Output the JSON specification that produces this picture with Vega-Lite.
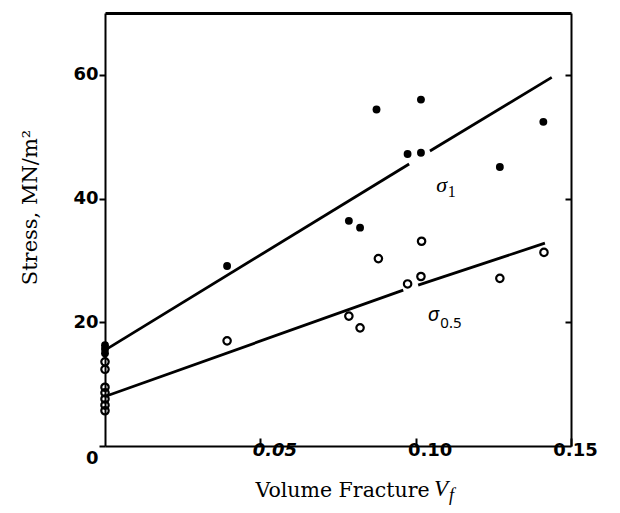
{
  "$schema": "https://vega.github.io/schema/vega-lite/v6.json",
  "width": 466,
  "height": 433,
  "autosize": {"type": "none"},
  "padding": {"left": 105, "top": 13, "right": 49, "bottom": 67},
  "background": "white",
  "config": {"view": {"stroke": null}, "axis": {"grid": false, "domainColor": "black", "tickColor": "black", "labelColor": "black", "titleColor": "black"}},
  "datasets": {
    "pts": [
      {"vf": 0, "stress": 16.3, "series": "sigma1"},
      {"vf": 0, "stress": 15.7, "series": "sigma1"},
      {"vf": 0, "stress": 15.0, "series": "sigma1"},
      {"vf": 0.0393, "stress": 29.1, "series": "sigma1"},
      {"vf": 0.0785, "stress": 36.4, "series": "sigma1"},
      {"vf": 0.0821, "stress": 35.3, "series": "sigma1"},
      {"vf": 0.0874, "stress": 54.4, "series": "sigma1"},
      {"vf": 0.0974, "stress": 47.2, "series": "sigma1"},
      {"vf": 0.1017, "stress": 47.4, "series": "sigma1"},
      {"vf": 0.1017, "stress": 56.0, "series": "sigma1"},
      {"vf": 0.1271, "stress": 45.1, "series": "sigma1"},
      {"vf": 0.1411, "stress": 52.4, "series": "sigma1"},
      {"vf": 0, "stress": 13.6, "series": "sigma05"},
      {"vf": 0, "stress": 12.4, "series": "sigma05"},
      {"vf": 0, "stress": 9.5, "series": "sigma05"},
      {"vf": 0, "stress": 8.6, "series": "sigma05"},
      {"vf": 0, "stress": 7.6, "series": "sigma05"},
      {"vf": 0, "stress": 6.6, "series": "sigma05"},
      {"vf": 0, "stress": 5.7, "series": "sigma05"},
      {"vf": 0.0393, "stress": 17.0, "series": "sigma05"},
      {"vf": 0.0785, "stress": 21.0, "series": "sigma05"},
      {"vf": 0.0821, "stress": 19.1, "series": "sigma05"},
      {"vf": 0.0880, "stress": 30.3, "series": "sigma05"},
      {"vf": 0.0974, "stress": 26.2, "series": "sigma05"},
      {"vf": 0.1017, "stress": 27.4, "series": "sigma05"},
      {"vf": 0.1019, "stress": 33.1, "series": "sigma05"},
      {"vf": 0.1271, "stress": 27.1, "series": "sigma05"},
      {"vf": 0.1413, "stress": 31.3, "series": "sigma05"}
    ],
    "fits": [
      {"vf": 0, "stress": 15.5, "seg": "s1a"},
      {"vf": 0.0979, "stress": 45.6, "seg": "s1a"},
      {"vf": 0.1046, "stress": 47.7, "seg": "s1b"},
      {"vf": 0.1438, "stress": 59.6, "seg": "s1b"},
      {"vf": 0, "stress": 8.0, "seg": "s5a"},
      {"vf": 0.0960, "stress": 25.2, "seg": "s5a"},
      {"vf": 0.1008, "stress": 26.0, "seg": "s5b"},
      {"vf": 0.1416, "stress": 32.8, "seg": "s5b"}
    ],
    "labels": [
      {"vf": 0.1084, "stress": 42.2, "text": "σ", "kind": "s1sym"},
      {"vf": 0.1084, "stress": 42.2, "text": "1", "kind": "s1sub"},
      {"vf": 0.1057, "stress": 21.2, "text": "σ", "kind": "s5sym"},
      {"vf": 0.1057, "stress": 21.2, "text": "0.5", "kind": "s5sub"},
      {"vf": 0.1059, "stress": -8.1, "text": "V", "kind": "vsym"},
      {"vf": 0.1059, "stress": -8.1, "text": "f", "kind": "vsub"}
    ]
  },
  "resolve": {"axis": {"x": "independent", "y": "independent"}},
  "layer": [
    {
      "data": {"name": "pts"},
      "transform": [{"filter": "datum.series == 'sigma1'"}],
      "mark": {"type": "point", "shape": "circle", "filled": true, "color": "black", "size": 62, "opacity": 1},
      "encoding": {
        "x": {"field": "vf", "type": "quantitative", "scale": {"domain": [0, 0.15], "nice": false, "zero": false},
          "axis": {"orient": "bottom", "values": [0.05, 0.1, 0.15], "format": ".2f", "domainWidth": 2, "tickWidth": 2, "tickSize": -8,
            "labelFont": "DejaVu Sans", "labelFontWeight": "bold", "labelFontSize": 18,
            "labelFontStyle": {"expr": "datum.value < 0.07 ? 'italic' : 'normal'"},
            "labelOffset": {"expr": "datum.value > 0.12 ? 4 : 14"},
            "labelPadding": 3, "labelFlush": false, "labelOverlap": false,
            "title": "Volume Fracture", "titleFont": "DejaVu Serif", "titleFontWeight": "normal", "titleFontSize": 20.5,
            "titleAlign": "left", "titleAnchor": null, "titleX": 150, "titleY": 50, "titleBaseline": "alphabetic"}},
        "y": {"field": "stress", "type": "quantitative", "scale": {"domain": [0, 70], "nice": false},
          "axis": {"orient": "left", "values": [0, 20, 40, 60], "domainWidth": 2, "tickWidth": 2, "tickSize": 6,
            "labelFont": "DejaVu Sans", "labelFontWeight": "bold", "labelFontSize": 18, "labelPadding": 1,
            "labelOffset": {"expr": "datum.value == 0 ? 12 : 0"},
            "labelFlush": false, "labelOverlap": false,
            "title": "Stress, MN/m²", "titleFont": "DejaVu Serif", "titleFontWeight": "normal", "titleFontSize": 21,
            "titleAngle": -90, "titleAlign": "center", "titleBaseline": "middle", "titleAnchor": null, "titleX": -75, "titleY": 194}}
      }
    },
    {
      "data": {"name": "pts"},
      "transform": [{"filter": "datum.series == 'sigma05'"}],
      "mark": {"type": "point", "shape": "circle", "filled": false, "color": "black", "size": 55, "strokeWidth": 2.2, "opacity": 1},
      "encoding": {
        "x": {"field": "vf", "type": "quantitative", "axis": null},
        "y": {"field": "stress", "type": "quantitative", "axis": null}
      }
    },
    {
      "data": {"name": "fits"},
      "mark": {"type": "line", "color": "black", "strokeWidth": 2.8},
      "encoding": {
        "x": {"field": "vf", "type": "quantitative",
          "axis": {"orient": "top", "domainWidth": 3, "ticks": false, "labels": false, "title": null}},
        "y": {"field": "stress", "type": "quantitative",
          "axis": {"orient": "right", "values": [20, 40, 60], "domainWidth": 2, "tickWidth": 2, "tickSize": -6, "labels": false, "title": null}},
        "detail": {"field": "seg"}
      }
    },
    {
      "data": {"name": "labels"},
      "transform": [{"filter": "datum.kind == 's1sym'"}],
      "mark": {"type": "text", "font": "Liberation Serif", "fontStyle": "italic", "fontSize": 22, "align": "center", "baseline": "middle", "color": "black"},
      "encoding": {"x": {"field": "vf", "type": "quantitative", "axis": null}, "y": {"field": "stress", "type": "quantitative", "axis": null}, "text": {"field": "text"}}
    },
    {
      "data": {"name": "labels"},
      "transform": [{"filter": "datum.kind == 's1sub'"}],
      "mark": {"type": "text", "font": "Liberation Serif", "fontSize": 16, "align": "center", "baseline": "middle", "dx": 10, "dy": 7, "color": "black"},
      "encoding": {"x": {"field": "vf", "type": "quantitative", "axis": null}, "y": {"field": "stress", "type": "quantitative", "axis": null}, "text": {"field": "text"}}
    },
    {
      "data": {"name": "labels"},
      "transform": [{"filter": "datum.kind == 's5sym'"}],
      "mark": {"type": "text", "font": "Noto Sans", "fontStyle": "italic", "fontSize": 20, "align": "center", "baseline": "middle", "color": "black"},
      "encoding": {"x": {"field": "vf", "type": "quantitative", "axis": null}, "y": {"field": "stress", "type": "quantitative", "axis": null}, "text": {"field": "text"}}
    },
    {
      "data": {"name": "labels"},
      "transform": [{"filter": "datum.kind == 's5sub'"}],
      "mark": {"type": "text", "font": "Noto Sans", "fontSize": 15, "align": "left", "baseline": "middle", "dx": 7, "dy": 8, "color": "black"},
      "encoding": {"x": {"field": "vf", "type": "quantitative", "axis": null}, "y": {"field": "stress", "type": "quantitative", "axis": null}, "text": {"field": "text"}}
    },
    {
      "data": {"name": "labels"},
      "transform": [{"filter": "datum.kind == 'vsym'"}],
      "mark": {"type": "text", "font": "Liberation Serif", "fontStyle": "italic", "fontSize": 23, "align": "left", "baseline": "alphabetic", "color": "black"},
      "encoding": {"x": {"field": "vf", "type": "quantitative", "axis": null}, "y": {"field": "stress", "type": "quantitative", "axis": null}, "text": {"field": "text"}}
    },
    {
      "data": {"name": "labels"},
      "transform": [{"filter": "datum.kind == 'vsub'"}],
      "mark": {"type": "text", "font": "Liberation Serif", "fontStyle": "italic", "fontSize": 18, "align": "left", "baseline": "alphabetic", "dx": 15, "dy": 5, "color": "black"},
      "encoding": {"x": {"field": "vf", "type": "quantitative", "axis": null}, "y": {"field": "stress", "type": "quantitative", "axis": null}, "text": {"field": "text"}}
    }
  ]
}
